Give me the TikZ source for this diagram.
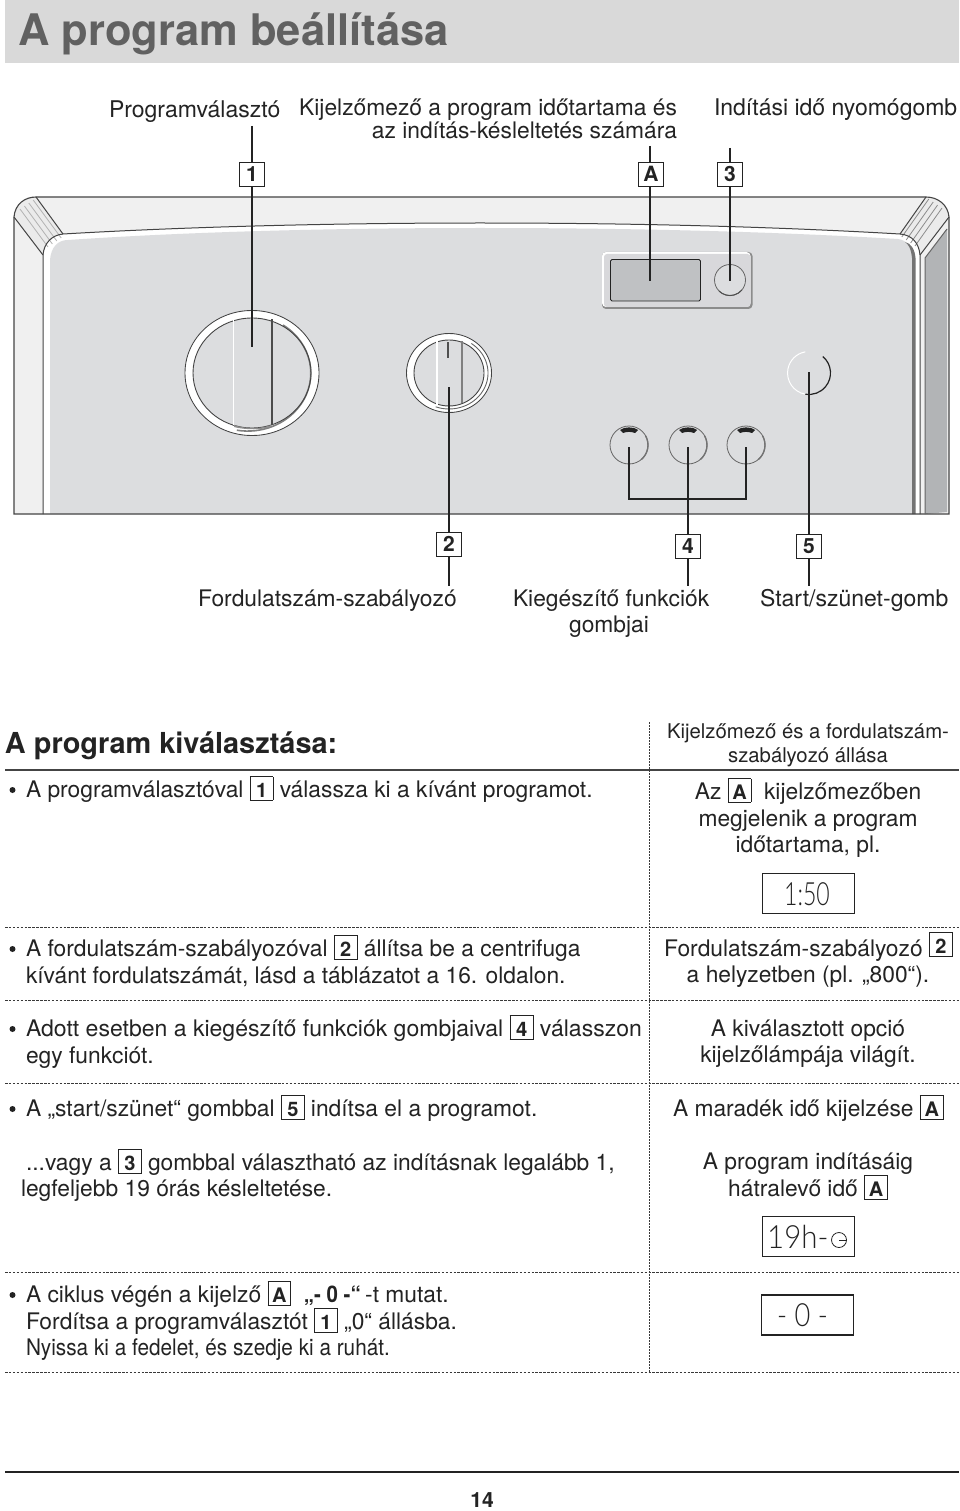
\documentclass[tikz,border=0pt]{standalone}
\usepackage{fontspec}
\setmainfont{TeX Gyre Heros}
\newfontfamily\lcdfont[UprightFont=* Light]{Lato}
\definecolor{ink}{HTML}{232323}
\definecolor{panel}{HTML}{DCDDDF}
\definecolor{band}{HTML}{F0F0F0}
\definecolor{sidegray}{HTML}{B2B4B6}
\definecolor{lcd}{HTML}{BFC1C3}
\newcommand{\bx}[1]{{\setlength\fboxsep{0pt}\setlength\fboxrule{0.8pt}\fbox{\makebox[22pt][c]{\rule[-2.5pt]{0pt}{22.5pt}\fontsize{20}{20}\selectfont\bfseries #1}}}}
\tikzset{
  x=1pt,y=-1pt,
  txt/.style={anchor=base west,inner sep=0pt,outer sep=0pt,text=ink,font=\fontsize{22.8}{26}\selectfont},
  ctr/.style={txt,anchor=base},
  rgt/.style={txt,anchor=base east},
  toplabel/.style={font=\fontsize{23}{26}\selectfont},
  small/.style={font=\fontsize{20.3}{23}\selectfont},
  num/.style={draw=ink,fill=white,line width=0.9pt,minimum width=25pt,minimum height=24pt,inner sep=0pt,text=ink,font=\fontsize{21}{21}\selectfont\bfseries},
  lead/.style={draw=ink,line width=1.1pt},
  rule/.style={draw=ink!90,line width=1pt,dash pattern=on 2.5pt off 1.4pt},
  vrule/.style={draw=ink!90,line width=1pt,dash pattern=on 1.5pt off 1.5pt},
  panelline/.style={draw=ink!85,line width=1pt},
  lcdbox/.style={draw=ink,fill=white,line width=1pt,minimum width=92pt,minimum height=40pt,inner sep=0pt},
  lcdtxt/.style={inner sep=0pt,text=ink,font=\lcdfont\fontsize{32}{32}\selectfont},
  pbtn/.style={circle,draw=ink!70,fill=panel,line width=.8pt,inner sep=0pt},
}
\begin{document}
\begin{tikzpicture}
\useasboundingbox (0,0) rectangle (960,1511);
% header
\fill[fill=white] (0,0) rectangle (960,1511);
\fill[fill=black!15] (5,0) rectangle (959,63);
\node[txt,text=black!62,font=\fontsize{43.5}{46}\selectfont\bfseries] (title) at (18,46) {A program beállítása};
% control panel
\fill[band] (14,514) -- (14,217) .. controls (15,204) and (25,197) .. (36,197) -- (926,197) .. controls (938,197) and (948,205) .. (949,217) -- (949,514) -- cycle;
\fill[white] (43,514) -- (43,255) .. controls (44,243) and (52,235) .. (63,234) .. controls (200,226) and (350,223) .. (480,223) .. controls (640,223) and (780,227) .. (900,234) .. controls (912,235) and (919,243) .. (920,255) -- (920,514) -- cycle;
\fill[panel] (50,514) -- (50,260) .. controls (51,247) and (58,240) .. (68,240) .. controls (200,231) and (350,228) .. (480,228) .. controls (640,228) and (780,232) .. (898,239) .. controls (906,240) and (912,246) .. (913,258) -- (913,514) -- cycle;
\fill[black!55] (912,514) -- (912,258) .. controls (911,248) and (908,244) .. (905,242) .. controls (911,243) and (915,250) .. (915.5,258) -- (915.5,514) -- cycle;
\fill[sidegray] (925,514) -- (925,258) -- (947,229) -- (947,512) -- cycle;
% left corner piece
\fill[black!8] (14,217) .. controls (15,204) and (25,197) .. (36,197) -- (63,234) .. controls (52,235) and (44,243) .. (43,255) -- cycle;
\foreach \d in {0,4,8,12}{\draw[black!30,line width=.8pt] (20+\d*1.1,209-\d*.75) -- (48+\d*1.1,247-\d*.75);}
% right corner piece
\fill[black!8] (949,217) .. controls (948,205) and (938,197) .. (926,197) -- (900,234) .. controls (912,235) and (919,243) .. (920,255) -- cycle;
\foreach \d in {0,4,8,12}{\draw[black!45,line width=.8pt] (942-\d*1.1,208-\d*.75) -- (915-\d*1.1,246-\d*.75);}
% panel outlines
\draw[panelline,line width=1.1pt] (14,514) -- (14,217) .. controls (15,204) and (25,197) .. (36,197) -- (926,197) .. controls (938,197) and (948,205) .. (949,217) -- (949,514) -- cycle;
\draw[panelline] (36,197) -- (63,234) .. controls (200,226) and (350,223) .. (480,223) .. controls (640,223) and (780,227) .. (900,234) -- (926,197);
\draw[panelline] (14,217) -- (43,255) -- (43,514);
\draw[panelline] (63,234) .. controls (52,235) and (44,243) .. (43,255);
\draw[panelline] (900,234) .. controls (912,235) and (919,243) .. (920,255) -- (920,514);
\draw[panelline] (949,217) -- (920,255);
\draw[panelline,draw=ink!70] (925,514) -- (925,258) -- (947,229);
% knob 1
\draw[ink!85,line width=.9pt] (252,373) ellipse [x radius=67,y radius=62.5];
\fill[white] (252,373) ellipse [x radius=66.3,y radius=61.8];
\fill[panel] (252,373) ellipse [x radius=59,y radius=55];
\draw[black!50,line width=1.6pt] (283,325) arc[start angle=-56,end angle=100,x radius=63,y radius=58];
\draw[ink!85,line width=.9pt] (252,373) ellipse [x radius=59,y radius=55];
\fill[white] (233,319) rectangle (234.2,425);
\fill[black!70] (271,319) rectangle (272.5,425);
\fill[black!45] (234,425) .. controls (245,429) and (262,429) .. (271,425) -- (271,427) .. controls (262,430) and (245,430) .. (234,427) -- cycle;
% knob 2
\draw[ink!85,line width=.9pt] (449,373) ellipse [x radius=42.5,y radius=39.5];
\fill[white] (449,373) ellipse [x radius=41.8,y radius=38.8];
\fill[panel] (449,373) ellipse [x radius=35,y radius=33];
\draw[black!60,line width=.9pt] (471.4,343.5) arc[start angle=-55,end angle=110,x radius=39,y radius=36];
\draw[ink!85,line width=.9pt] (449,373) ellipse [x radius=35,y radius=33];
\fill[white] (436,341) rectangle (437.5,405);
\fill[black!50] (461,341) rectangle (462.5,403);
\draw[ink!80,line width=1.2pt] (448,342) -- (448,358);
% display bezel
\fill[black!45,rounded corners=4pt] (602,252) rectangle (752.5,309);
\fill[white,rounded corners=4pt] (602,252) rectangle (750.5,307);
\fill[panel!98!black,rounded corners=3pt] (604,254) rectangle (750.5,307);
\draw[ink,fill=lcd,line width=.9pt,rounded corners=1.5pt] (610.5,259.5) rectangle (700.5,301);
\node[pbtn,minimum size=31pt] (bt3) at (730,280) {};
\draw[ink!80,line width=1pt] (719,291) arc[start angle=135,end angle=40,radius=15.5];
% start button
\node[pbtn,draw=none,minimum size=43pt] (bt5) at (809,373) {};
\draw[ink,line width=1.2pt] (822.8,356.5) arc[start angle=-50,end angle=100,radius=21.5];
\draw[white,line width=1pt] (805.3,394.2) arc[start angle=100,end angle=260,radius=21.5];
% three option buttons
\foreach \n/\x in {a/629,b/688,c/746}{
  \node[pbtn,minimum size=38pt] (op\n) at (\x,445) {};
  \draw[black!55,line width=1.4pt] (\x+12.2,459.6) arc[start angle=50,end angle=-30,radius=19];
  \fill[ink] (\x-9,430) .. controls (\x-5,426.5) and (\x+5,426.5) .. (\x+9,430) -- (\x+6,433) .. controls (\x+2,431.5) and (\x-2,431.5) .. (\x-6,433) -- cycle;
}
% top labels and boxes
\node[txt,toplabel] (l1) at (109,118) {Programválasztó};
\node[rgt] (lA1) at (677,116) {Kijelzőmező a program időtartama és};
\node[rgt] (lA2) at (677,139) {az indítás-késleltetés számára};
\node[txt,toplabel] (l3) at (714,116) {Indítási idő nyomógomb};
\node[num] (b1) at (252,174) {1};
\node[num] (bA) at (651,174) {A};
\node[num] (b3) at (730,174) {3};
\coordinate (t1) at (252,126);
\coordinate (tA) at (650,146);
\coordinate (t3) at (730,148);
\coordinate (e1) at (252,347);
\coordinate (eA) at (650,281);
\coordinate (e3) at (730,281);
\draw[lead] (t1) -- (b1.north);
\draw[lead] (tA) -- (tA |- bA.north);
\draw[lead] (t3) -- (b3.north);
\draw[lead] (b1.south) -- (e1);
\draw[lead] (bA.south -| eA) -- (eA);
\draw[lead] (b3.south) -- (e3);
% bottom labels and boxes
\node[num] (b2) at (449,544) {2};
\node[num] (b4) at (688,546) {4};
\node[num] (b5) at (809,546) {5};
\node[txt] (l2) at (198,606) {Fordulatszám-szabályozó};
\node[txt] (l4a) at (513,606) {Kiegészítő funkciók};
\node[ctr] (l4b) at (609,632) {gombjai};
\node[txt,toplabel] (l5) at (760,606) {Start/szünet-gomb};
\coordinate (e2) at (449,387);
\coordinate (e4) at (688,447);
\coordinate (e5) at (809,372);
\coordinate (f2) at (449,586);
\coordinate (f4) at (688,586);
\coordinate (f5) at (809,586);
\draw[lead] (e2) -- (b2.north);
\draw[lead] (e4) -- (b4.north);
\draw[lead] (e5) -- (b5.north);
\draw[lead] (b2.south) -- (f2);
\draw[lead] (b4.south) -- (f4);
\draw[lead] (b5.south) -- (f5);
\coordinate (ea) at (629,447);
\coordinate (ec) at (746,447);
\coordinate (bend) at (0,499);
\draw[lead] (ea) -- (ea |- bend) -- (ec |- bend) -- (ec);
% section heading
\node[txt,text=ink,font=\fontsize{28.9}{31}\selectfont\bfseries] (sec) at (5,753) {A program kiválasztása:};
\node[ctr,small] (h1) at (808,738) {Kijelzőmező és a fordulatszám-};
\node[ctr,small] (h2) at (808,762) {szabályozó állása};
% rules
\draw[ink!85,line width=1.6pt] (5,770) -- (959,770);
\draw[vrule] (649.5,722) -- (649.5,1372);
\foreach \y in {927,1000,1083,1272,1372}{\draw[rule] (5,\y) -- (959,\y);}
\draw[ink,line width=1.8pt] (5,1472) -- (959,1472);
% body, left
\foreach \y in {797,956,1036,1116,1302}{\fill[ink] (12.5,\y-7) circle (3);}
\node[txt] (p1) at (26,797) {A programválasztóval \bx{1} válassza ki a kívánt programot.};
\node[txt] (p2a) at (26,956) {A fordulatszám-szabályozóval \bx{2} állítsa be a centrifuga};
\node[txt] (p2b) at (26,983) {kívánt fordulatszámát, lásd a táblázatot a 16. oldalon.};
\node[txt] (p3a) at (26,1036) {\scalebox{1.01}[1]{Adott esetben a kiegészítő funkciók gombjaival \bx{4} válasszon}};
\node[txt] (p3b) at (26,1063) {egy funkciót.};
\node[txt] (p4) at (26,1116) {A „start/szünet“ gombbal \bx{5} indítsa el a programot.};
\node[txt] (p5a) at (26,1170) {...vagy a \bx{3} gombbal választható az indításnak legalább 1,};
\node[txt] (p5b) at (21,1196) {legfeljebb 19 órás késleltetése.};
\node[txt] (p6a) at (26,1302) {A ciklus végén a kijelző \bx{A} \ {\bfseries\scalebox{.9}[1]{„- 0 -“}} \hspace{-2pt}-t mutat.};
\node[txt] (p6b) at (26,1329) {Fordítsa a programválasztót \bx{1} „0“ állásba.};
\node[txt] (p6c) at (26,1355) {\scalebox{0.91}[1]{Nyissa ki a fedelet, és szedje ki a ruhát.}};
% body, right
\node[ctr] (r1a) at (808,799) {Az \bx{A} \ kijelzőmezőben};
\node[ctr] (r1b) at (808,826) {megjelenik a program};
\node[ctr] (r1c) at (808,852) {időtartama, pl.};
\node[txt] (r2a) at (664,956) {Fordulatszám-szabályozó \raisebox{3pt}{\bx{2}}};
\node[ctr] (r2b) at (808,982) {a helyzetben (pl. „800“).};
\node[ctr] (r3a) at (808,1036) {A kiválasztott opció};
\node[ctr] (r3b) at (808,1062) {kijelzőlámpája világít.};
\node[txt] (r4) at (673,1116) {A maradék idő kijelzése \bx{A}};
\node[ctr] (r5a) at (808,1169) {A program indításáig};
\node[ctr] (r5b) at (808,1196) {hátralevő idő \bx{A}};
% displays
\node[lcdbox] (d1) at (808,893) {};
\node[lcdtxt] (d1t) at (807,894) {\scalebox{.72}[1]{1:50}};
\node[lcdbox] (d2) at (808,1236) {};
\node[lcdtxt,anchor=west] (d2t) at (767,1237) {\scalebox{.92}[1]{19h-}};
\draw[ink,line width=.8pt] (839,1240) circle (7.5);
\draw[ink,line width=.8pt] (839,1240) -- (846.5,1240);
\node[lcdbox,line width=1.5pt] (d3) at (807.5,1315) {};
\node[lcdtxt,anchor=west] (d3t) at (777,1315) {\scalebox{.85}[1]{- 0 -}};
% page number
\node[ctr,font=\fontsize{21}{21}\selectfont\bfseries] (pg) at (482,1507) {14};
\end{tikzpicture}
\end{document}
